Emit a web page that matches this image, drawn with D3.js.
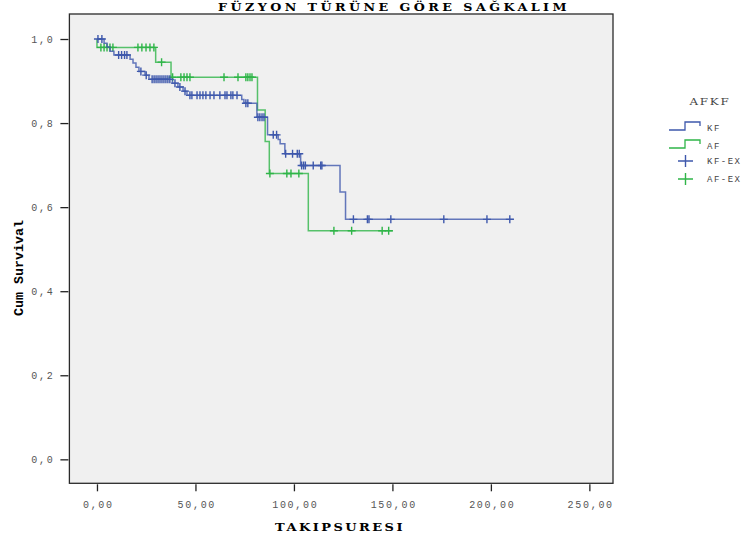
<!DOCTYPE html>
<html lang="tr">
  <head>
    <meta charset="UTF-8">
    <script src="https://cdn.jsdelivr.net/npm/d3@7/dist/d3.min.js"></script>
    <title>Füzyon türüne göre sağkalım</title>
    <style>
    body { margin: 0; background: #fff; }
    .tick text { fill: #555; }
    </style>
  </head>
  <body>
    <div id="chart"></div>
    <script>

// Kaplan-Meier data (time in TAKIPSURESI units)
const xTicks = [0, 50, 100, 150, 200, 250];
const yTicks = [0, 0.2, 0.4, 0.6, 0.8, 1.0];

// KF group: event times and survival after each event
const kfTimes    = [3.6, 5.1, 6.6, 8.6, 16.8, 18.3, 19.8, 21.3, 24.4, 26.4, 38.3, 41.1, 43.7, 45.7, 73.5, 74.6, 81.2, 86.6, 92.0, 93.0, 95.4, 103.4, 123.4, 126.2];
const kfSurvival = [0.990, 0.981, 0.971, 0.962, 0.952, 0.943, 0.933, 0.923, 0.914, 0.904, 0.895, 0.886, 0.876, 0.866, 0.856, 0.847, 0.814, 0.772, 0.761, 0.751, 0.727, 0.699, 0.636, 0.571];
const kfCensored = [0.5, 2.5, 11.0, 12.5, 14.0, 15.2, 22.3, 25.0, 28, 29, 30, 31, 32, 33, 34, 35, 36, 37, 39.6, 42.1, 44.7,
                    47.2, 48.2, 50.8, 52.3, 53.8, 55.3, 57.4, 59.4, 62.4, 65.0, 66.0, 68.0, 69.0, 71.1, 75.6, 76.6,
                    81.7, 82.7, 83.8, 84.8, 89.5, 91.2, 95.8, 99.3, 101.7, 102.7, 103.9, 104.9, 105.8, 109.8, 113.6, 114.2,
                    130.2, 137.3, 138.1, 149.2, 176.1, 198.0, 209.6];
const kfEnd = 211.7;

// AF group
const afTimes    = [0.0, 29.8, 37.6, 81.5, 85.4, 87.5, 107.3];
const afSurvival = [0.980, 0.945, 0.909, 0.831, 0.756, 0.680, 0.544];
const afCensored = [2.0, 3.6, 5.1, 6.6, 8.1, 20.8, 22.8, 24.9, 26.9, 28.9, 32.8,
                    38.4, 42.6, 44.2, 45.7, 47.2, 64.5, 71.6, 75.6, 76.6, 77.7, 78.7,
                    87.8, 96.4, 98.5, 102.5, 120.3, 129.3, 144.8, 148.1];
const afEnd = 150.3;

const groups = [
  { name: "KF", colour: "#3e58ac", times: kfTimes, surv: kfSurvival, cens: kfCensored, end: kfEnd },
  { name: "AF", colour: "#2fb548", times: afTimes, surv: afSurvival, cens: afCensored, end: afEnd }
];

const width  = 749;
const height = 540;
const frame  = { left: 69.4, right: 613, top: 14, bottom: 483.3 };

const locale = d3.formatLocale({ decimal: ",", thousands: ".", grouping: [3], currency: ["", ""] });

const x = d3.scaleLinear().domain([-14, 262]).range([frame.left, frame.right]);
const y = d3.scaleLinear().domain([-0.057, 1.0595]).range([frame.bottom, frame.top]);

const svg = d3
  .select("#chart")
  .append("svg")
  .attr("width",  width)
  .attr("height", height)
  .attr("viewBox", [0, 0, width, height]);

// plot background + frame
svg.append("rect")
  .attr("x", frame.left)
  .attr("y", frame.top)
  .attr("width",  frame.right - frame.left)
  .attr("height", frame.bottom - frame.top)
  .attr("fill", "#f0f0f0")
  .attr("stroke", "#2a2a2a")
  .attr("stroke-width", 1.3);

// axes
const xAxis = svg.append("g")
  .attr("transform", `translate(0,${frame.bottom + 1})`)
  .call(d3.axisBottom(x).tickValues(xTicks).tickFormat(locale.format(".2f")).tickSize(7).tickPadding(10));

const yAxis = svg.append("g")
  .attr("transform", `translate(${frame.left - 1},0)`)
  .call(d3.axisLeft(y).tickValues(yTicks).tickFormat(locale.format(".1f")).tickSize(8).tickPadding(6));

[xAxis, yAxis].forEach(a => {
  a.select(".domain").remove();
  a.selectAll(".tick line").attr("stroke", "#222").attr("stroke-width", 1.3);
  a.selectAll(".tick text")
    .attr("font-family", "Liberation Mono, monospace")
    .attr("font-size", 10)
    .attr("letter-spacing", 1.7);
});
xAxis.selectAll(".tick text").attr("dx", "0.85");

// step curve for a group
function stepPoints(g) {
  const pts = [[0, 1]];
  let s = 1;
  g.times.forEach((t, i) => {
    pts.push([t, s]);
    s = g.surv[i];
    pts.push([t, s]);
  });
  pts.push([g.end, s]);
  return pts;
}

function survivalAt(g, t) {
  let s = 1;
  g.times.forEach((tt, i) => { if (tt <= t) s = g.surv[i]; });
  return s;
}

const line = d3.line().x(d => x(d[0])).y(d => y(d[1]));

// draw AF first so KF sits on top like the reference
[groups[1], groups[0]].forEach(g => {
  const gg = svg.append("g");
  gg.append("path")
    .attr("d", line(stepPoints(g)))
    .attr("fill", "none")
    .attr("stroke", g.colour)
    .attr("stroke-opacity", 0.8)
    .attr("stroke-width", 1.5);

  gg.selectAll("path.cross")
    .data(g.cens)
    .join("path")
    .attr("class", "cross")
    .attr("d", t => {
      const cx = x(t), cy = y(survivalAt(g, t));
      return `M${cx - 4},${cy}H${cx + 4}M${cx},${cy - 4}V${cy + 4}`;
    })
    .attr("stroke", g.colour)
    .attr("stroke-width", 1.4);
});

// titles
svg.append("text")
  .attr("x", 394)
  .attr("y", 11)
  .attr("text-anchor", "middle")
  .attr("font-family", "'DejaVu Serif', serif")
  .attr("font-weight", "bold")
  .attr("font-size", 11)
  .attr("letter-spacing", 3)
  .attr("textLength", 352)
  .attr("lengthAdjust", "spacingAndGlyphs")
  .text("FÜZYON TÜRÜNE GÖRE SAĞKALIM");

svg.append("text")
  .attr("x", 340)
  .attr("y", 531)
  .attr("text-anchor", "middle")
  .attr("font-family", "'DejaVu Serif', serif")
  .attr("font-weight", "bold")
  .attr("font-size", 10.5)
  .attr("letter-spacing", 2)
  .attr("textLength", 130)
  .attr("lengthAdjust", "spacingAndGlyphs")
  .text("TAKIPSURESI");

svg.append("text")
  .attr("transform", "translate(23,268) rotate(-90)")
  .attr("text-anchor", "middle")
  .attr("font-family", "Liberation Mono, monospace")
  .attr("font-weight", "bold")
  .attr("font-size", 13)
  .attr("textLength", 96)
  .attr("lengthAdjust", "spacingAndGlyphs")
  .text("Cum Survival");

// legend
const legend = svg.append("g").attr("font-family", "Liberation Mono, monospace").attr("fill", "#444");

legend.append("text")
  .attr("x", 710).attr("y", 105)
  .attr("text-anchor", "middle")
  .attr("font-family", "'DejaVu Serif', serif")
  .attr("font-size", 10)
  .attr("letter-spacing", 1.5)
  .attr("textLength", 41)
  .attr("lengthAdjust", "spacingAndGlyphs")
  .text("AFKF");

groups.forEach((g, i) => {
  const ly = 130 + i * 18;
  legend.append("path")
    .attr("d", `M669,${ly}H685V${ly - 8}H700V${ly - 4}`)
    .attr("fill", "none")
    .attr("stroke", g.colour)
    .attr("stroke-width", 1.3);
  legend.append("text")
    .attr("x", 707).attr("y", ly + 1)
    .attr("font-size", 9)
    .attr("letter-spacing", 1.5)
    .text(g.name);

  const cy = 161 + i * 18;
  legend.append("path")
    .attr("d", `M678,${cy}H693M685.5,${cy - 6}V${cy + 6}`)
    .attr("stroke", g.colour)
    .attr("stroke-width", 1.4);
  legend.append("text")
    .attr("x", 707).attr("y", cy + 3)
    .attr("font-size", 9)
    .attr("letter-spacing", 1.5)
    .text(g.name + "-EX");
});

    </script>
  </body>
</html>
